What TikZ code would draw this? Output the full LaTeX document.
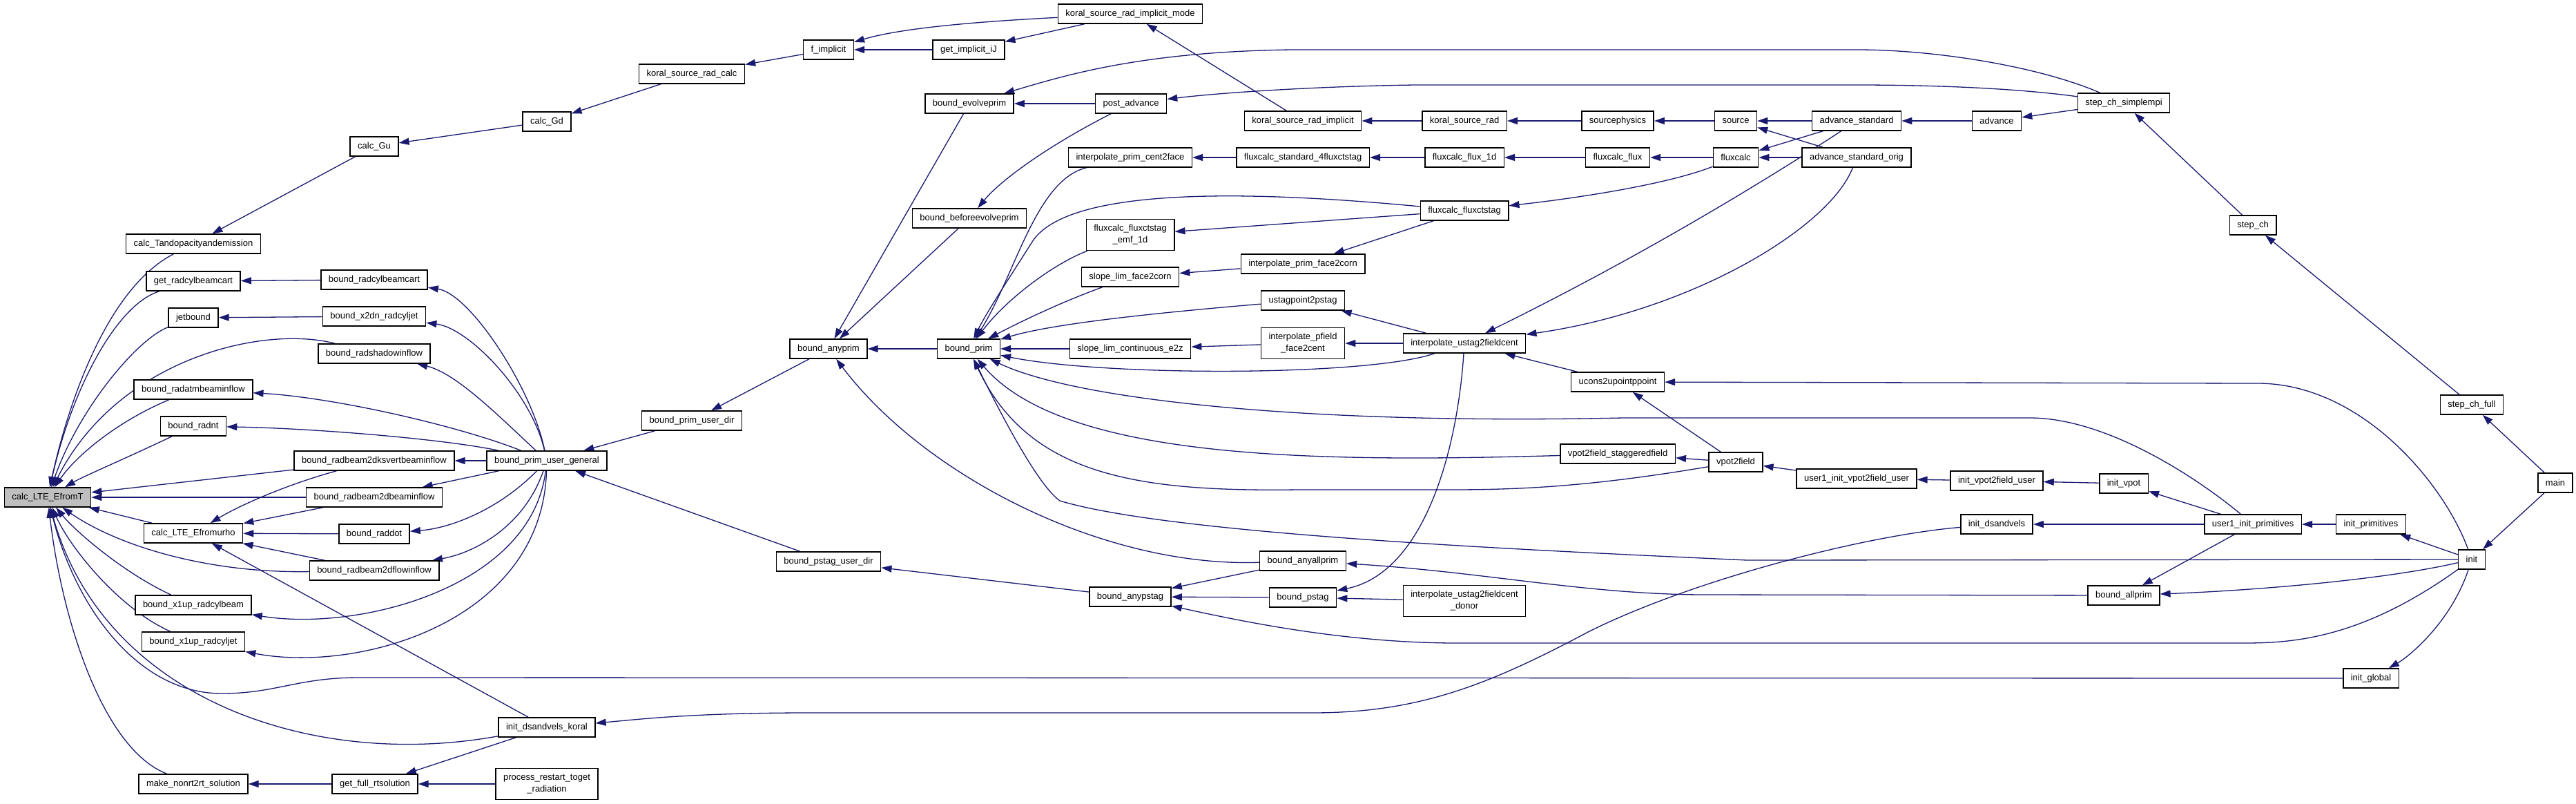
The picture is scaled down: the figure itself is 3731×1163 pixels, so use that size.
\documentclass[tikz,border=0pt]{standalone}
\usepackage{fontspec}
\setmainfont{Liberation Sans}
\usetikzlibrary{arrows.meta}
\definecolor{edgec}{HTML}{191970}
\definecolor{fillg}{HTML}{BFBFBF}
\pgfdeclarelayer{bg}
\pgfsetlayers{bg,main}
\begin{document}
\begin{tikzpicture}[x=1pt,y=-1pt,
  fn/.style={draw=black, line width=1.5pt, fill=white, inner xsep=11pt, inner ysep=0pt,
    minimum height=28pt, font=\fontsize{13}{17}\selectfont, align=center},
  fntwo/.style={fn, minimum height=45pt},
  e/.style={draw=edgec, line width=1.3pt, -{Triangle[length=15pt,width=10pt]}}]
\useasboundingbox (0,0) rectangle (3731,1163);
% column 0-1
\node[fn,fill=fillg] (calcLTE) at (69,720) {calc\_LTE\_EfromT};
\node[fn] (calcT) at (280,353) {calc\_Tandopacityandemission};
\node[fn] (getrad) at (280,407) {get\_radcylbeamcart};
\node[fn] (jetbound) at (280,460) {jetbound};
\node[fn] (atmbeam) at (280,564) {bound\_radatmbeaminflow};
\node[fn] (radnt) at (280,617) {bound\_radnt};
\node[fn] (Efromurho) at (280,772) {calc\_LTE\_Efromurho};
\node[fn] (x1upbeam) at (280,876) {bound\_x1up\_radcylbeam};
\node[fn] (x1upjet) at (280,929) {bound\_x1up\_radcyljet};
\node[fn] (makenon) at (280,1135) {make\_nonrt2rt\_solution};
% column 2
\node[fn] (calcGu) at (542,212) {calc\_Gu};
\node[fn] (bradcyl) at (542,405) {bound\_radcylbeamcart};
\node[fn] (x2dn) at (542,458) {bound\_x2dn\_radcyljet};
\node[fn] (shadow) at (542,512) {bound\_radshadowinflow};
\node[fn] (ksvert) at (542,667) {bound\_radbeam2dksvertbeaminflow};
\node[fn] (b2dbeam) at (542,720) {bound\_radbeam2dbeaminflow};
\node[fn] (raddot) at (542,773) {bound\_raddot};
\node[fn] (flowin) at (542,826) {bound\_radbeam2dflowinflow};
\node[fn] (getfull) at (543,1135) {get\_full\_rtsolution};
% column 3
\node[fn] (calcGd) at (792,176) {calc\_Gd};
\node[fn] (bpug) at (792,667) {bound\_prim\_user\_general};
\node[fn] (idk) at (792,1053) {init\_dsandvels\_koral};
\node[fntwo] (proc) at (792,1135) {process\_restart\_toget\\\_radiation};
% column 4
\node[fn] (ksrc) at (1002,107) {koral\_source\_rad\_calc};
\node[fn] (bpud) at (1002,609) {bound\_prim\_user\_dir};
% column 5
\node[fn] (fimp) at (1200,72) {f\_implicit};
\node[fn] (banyprim) at (1200,505) {bound\_anyprim};
\node[fn] (bpsud) at (1200,813) {bound\_pstag\_user\_dir};
% column 6
\node[fn] (getiJ) at (1403,72) {get\_implicit\_iJ};
\node[fn] (bevolve) at (1404,150) {bound\_evolveprim};
\node[fn] (bbefore) at (1404,316) {bound\_beforeevolveprim};
\node[fn] (bprim) at (1403,505) {bound\_prim};
% column 7
\node[fn] (mode) at (1637,20) {koral\_source\_rad\_implicit\_mode};
\node[fn] (postadv) at (1638,150) {post\_advance};
\node[fn] (ipc2f) at (1637,228) {interpolate\_prim\_cent2face};
\node[fntwo] (emf) at (1637,340) {fluxcalc\_fluxctstag\\\_emf\_1d};
\node[fn] (slf2c) at (1637,401) {slope\_lim\_face2corn};
\node[fn] (sle2z) at (1637,505) {slope\_lim\_continuous\_e2z};
\node[fn] (banypstag) at (1637,864) {bound\_anypstag};
% column 8
\node[fn] (ksri) at (1887,175) {koral\_source\_rad\_implicit};
\node[fn] (fs4) at (1887,228) {fluxcalc\_standard\_4fluxctstag};
\node[fn] (ipf2c) at (1887,382) {interpolate\_prim\_face2corn};
\node[fn] (usp) at (1887,435) {ustagpoint2pstag};
\node[fntwo] (ipff) at (1887,497) {interpolate\_pfield\\\_face2cent};
\node[fn] (banyall) at (1887,812) {bound\_anyallprim};
\node[fn] (bpstag) at (1887,865) {bound\_pstag};
% column 9
\node[fn] (ksr) at (2121,175) {koral\_source\_rad};
\node[fn] (ff1d) at (2121,228) {fluxcalc\_flux\_1d};
\node[fn] (ffct) at (2121,305) {fluxcalc\_fluxctstag};
\node[fn] (iu2f) at (2121,497) {interpolate\_ustag2fieldcent};
\node[fntwo] (iudonor) at (2121,870) {interpolate\_ustag2fieldcent\\\_donor};
% column 10
\node[fn] (sphys) at (2343,175) {sourcephysics};
\node[fn] (fflux) at (2343,228) {fluxcalc\_flux};
\node[fn] (ucons) at (2343,553) {ucons2upointppoint};
\node[fn] (vpsf) at (2343,657) {vpot2field\_staggeredfield};
% column 11
\node[fn] (source) at (2514,175) {source};
\node[fn] (fluxcalc) at (2514,228) {fluxcalc};
\node[fn] (vpot2field) at (2514,669) {vpot2field};
% column 12
\node[fn] (advstd) at (2689,175) {advance\_standard};
\node[fn] (advorig) at (2689,228) {advance\_standard\_orig};
\node[fn] (u1vpu) at (2689,693) {user1\_init\_vpot2field\_user};
% column 13
\node[fn] (advance) at (2892,175) {advance};
\node[fn] (ivpu) at (2892,696) {init\_vpot2field\_user};
\node[fn] (idsv) at (2892,759) {init\_dsandvels};
% column 14
\node[fn] (stepsimple) at (3076,149) {step\_ch\_simplempi};
\node[fn] (initvpot) at (3076,700) {init\_vpot};
\node[fn] (ballprim) at (3076,862) {bound\_allprim};
% column 15-18
\node[fn] (stepch) at (3263,326) {step\_ch};
\node[fn] (u1ip) at (3263,759) {user1\_init\_primitives};
\node[fn] (initprim) at (3434,759) {init\_primitives};
\node[fn] (initglobal) at (3434,982) {init\_global};
\node[fn] (stepfull) at (3580,586) {step\_ch\_full};
\node[fn] (init) at (3580,810) {init};
\node[fn] (main) at (3701,699) {main};

\begin{pgfonlayer}{bg}
\fill[white] (0,0) rectangle (3731,1163);
% into calc_LTE_EfromT
\draw[e] (calcT) .. controls (150,420) and (95,600) .. (calcLTE);
\draw[e] (getrad) .. controls (170,440) and (105,560) .. (calcLTE);
\draw[e] (jetbound) .. controls (200,490) and (115,590) .. (calcLTE);
\draw[e] (shadow) .. controls (380,470) and (170,520) .. (calcLTE);
\draw[e] (atmbeam) .. controls (170,610) and (110,660) .. (calcLTE);
\draw[e] (radnt) .. controls (190,660) and (120,690) .. (calcLTE);
\draw[e] (ksvert) -- (calcLTE);
\draw[e] (b2dbeam) -- (calcLTE);
\draw[e] (Efromurho) -- (calcLTE);
\draw[e] (flowin) .. controls (300,830) and (170,790) .. (calcLTE);
\draw[e] (x1upbeam) .. controls (180,830) and (110,770) .. (calcLTE);
\draw[e] (x1upjet) .. controls (170,880) and (100,790) .. (calcLTE);
\draw[e] (initglobal) -- (520,981) .. controls (430,981) and (400,1004) .. (321,1004) .. controls (200,1004) and (110,880) .. (calcLTE);
\draw[e] (idk) .. controls (450,1115) and (150,1010) .. (calcLTE);
\draw[e] (makenon) .. controls (150,1085) and (90,900) .. (calcLTE);
% into calc_LTE_Efromurho
\draw[e] (ksvert) .. controls (420,700) and (350,730) .. (Efromurho);
\draw[e] (b2dbeam) -- (Efromurho);
\draw[e] (raddot) -- (Efromurho);
\draw[e] (flowin) -- (Efromurho);
\draw[e] (idk) -- (Efromurho);
% bound_prim_user_general
\draw[e] (bpug) .. controls (770,560) and (680,425) .. (bradcyl);
\draw[e] (bpug) .. controls (770,570) and (680,475) .. (x2dn);
\draw[e] (bpug) .. controls (720,600) and (660,540) .. (shadow);
\draw[e] (bpug) .. controls (660,615) and (480,575) .. (atmbeam);
\draw[e] (bpug) .. controls (640,635) and (450,620) .. (radnt);
\draw[e] (bpug) -- (ksvert);
\draw[e] (bpug) -- (b2dbeam);
\draw[e] (bpug) .. controls (720,740) and (650,765) .. (raddot);
\draw[e] (bpug) .. controls (760,760) and (690,800) .. (flowin);
\draw[e] (bpug) .. controls (770,850) and (520,915) .. (x1upbeam);
\draw[e] (bpug) .. controls (785,900) and (520,975) .. (x1upjet);
\draw[e] (bradcyl) -- (getrad);
\draw[e] (x2dn) -- (jetbound);
\draw[e] (bpud) -- (bpug);
\draw[e] (bpsud) -- (bpug);
\draw[e] (banyprim) -- (bpud);
\draw[e] (banypstag) -- (bpsud);
\draw[e] (bprim) -- (banyprim);
\draw[e] (bevolve) -- (banyprim);
\draw[e] (bbefore) -- (banyprim);
\draw[e] (banyall) .. controls (1600,822) and (1340,690) .. (banyprim);
\draw[e] (banyall) -- (banypstag);
\draw[e] (bpstag) -- (banypstag);
\draw[e] (init) .. controls (3420,925) and (3320,931) .. (3250,931) -- (2110,931) .. controls (1950,931) and (1800,900) .. (banypstag);
\draw[e] (iudonor) -- (bpstag);
\draw[e] (iu2f) .. controls (2110,660) and (2060,830) .. (bpstag);
\draw[e] (ballprim) -- (2470,861) .. controls (2300,861) and (2150,828) .. (banyall);
\draw[e] (init) .. controls (3450,840) and (3260,855) .. (ballprim);
\draw[e] (u1ip) -- (ballprim);
\draw[e] (init) .. controls (3550,900) and (3490,950) .. (initglobal);
\draw[e] (init) -- (2530,811) .. controls (2250,798) and (1700,775) .. (1535,725) .. controls (1500,700) and (1440,580) .. (bprim);
\draw[e] (init) .. controls (3540,700) and (3420,555) .. (3270,555) -- (ucons);
\draw[e] (u1ip) .. controls (3180,690) and (3050,605) .. (2940,605) -- (2350,605) .. controls (1900,615) and (1560,580) .. (bprim);
\draw[e] (vpsf) .. controls (1900,670) and (1540,665) .. (bprim);
\draw[e] (vpot2field) .. controls (2300,705) and (2200,709) .. (2100,709) -- (1880,709) .. controls (1650,712) and (1490,690) .. (bprim);
\draw[e] (iu2f) .. controls (1980,545) and (1600,545) .. (bprim);
\draw[e] (iu2f) -- (usp);
\draw[e] (iu2f) -- (ipff);
\draw[e] (ucons) -- (iu2f);
\draw[e] (vpot2field) -- (ucons);
\draw[e] (vpot2field) -- (vpsf);
\draw[e] (u1vpu) -- (vpot2field);
\draw[e] (ivpu) -- (u1vpu);
\draw[e] (initvpot) -- (ivpu);
\draw[e] (u1ip) -- (initvpot);
\draw[e] (u1ip) -- (idsv);
\draw[e] (initprim) -- (u1ip);
\draw[e] (init) -- (initprim);
\draw[e] (main) -- (init);
\draw[e] (main) -- (stepfull);
\draw[e] (stepfull) -- (stepch);
\draw[e] (stepch) -- (stepsimple);
\draw[e] (stepsimple) -- (advance);
\draw[e] (stepsimple) .. controls (2900,125) and (2760,123) .. (2690,123) -- (2050,123) .. controls (1900,125) and (1760,135) .. (postadv);
\draw[e] (stepsimple) .. controls (2950,95) and (2800,72) .. (2690,72) -- (1870,72) .. controls (1650,75) and (1540,110) .. (bevolve);
\draw[e] (postadv) -- (bevolve);
\draw[e] (postadv) .. controls (1520,210) and (1450,260) .. (bbefore);
\draw[e] (advance) -- (advstd);
\draw[e] (advstd) -- (source);
\draw[e] (advstd) -- (fluxcalc);
\draw[e] (advorig) -- (source);
\draw[e] (advorig) -- (fluxcalc);
\draw[e] (advstd) .. controls (2590,240) and (2400,360) .. (iu2f);
\draw[e] (advorig) .. controls (2650,330) and (2450,450) .. (iu2f);
\draw[e] (source) -- (sphys);
\draw[e] (sphys) -- (ksr);
\draw[e] (ksr) -- (ksri);
\draw[e] (ksri) -- (mode);
\draw[e] (mode) .. controls (1400,32) and (1300,42) .. (fimp);
\draw[e] (mode) -- (getiJ);
\draw[e] (getiJ) -- (fimp);
\draw[e] (fimp) -- (ksrc);
\draw[e] (ksrc) -- (calcGd);
\draw[e] (calcGd) -- (calcGu);
\draw[e] (calcGu) -- (calcT);
\draw[e] (fluxcalc) -- (fflux);
\draw[e] (fflux) -- (ff1d);
\draw[e] (ff1d) -- (fs4);
\draw[e] (fs4) -- (ipc2f);
\draw[e] (fluxcalc) .. controls (2420,265) and (2300,285) .. (ffct);
\draw[e] (ffct) -- (emf);
\draw[e] (ffct) -- (ipf2c);
\draw[e] (ffct) .. controls (1750,270) and (1540,280) .. (1495,350) .. controls (1470,390) and (1430,450) .. (bprim);
\draw[e] (ipc2f) .. controls (1500,260) and (1470,400) .. (bprim);
\draw[e] (emf) .. controls (1530,380) and (1460,430) .. (bprim);
\draw[e] (slf2c) .. controls (1530,440) and (1470,470) .. (bprim);
\draw[e] (usp) .. controls (1650,455) and (1520,470) .. (bprim);
\draw[e] (sle2z) -- (bprim);
\draw[e] (ipff) -- (sle2z);
\draw[e] (ipf2c) -- (slf2c);
\draw[e] (idsv) .. controls (2700,775) and (2450,840) .. (2300,915) .. controls (2150,995) and (2050,1032) .. (1900,1032) -- (1170,1032) .. controls (1000,1032) and (920,1042) .. (idk);
\draw[e] (idk) -- (getfull);
\draw[e] (getfull) -- (makenon);
\draw[e] (proc) -- (getfull);
\end{pgfonlayer}
\end{tikzpicture}
\end{document}
